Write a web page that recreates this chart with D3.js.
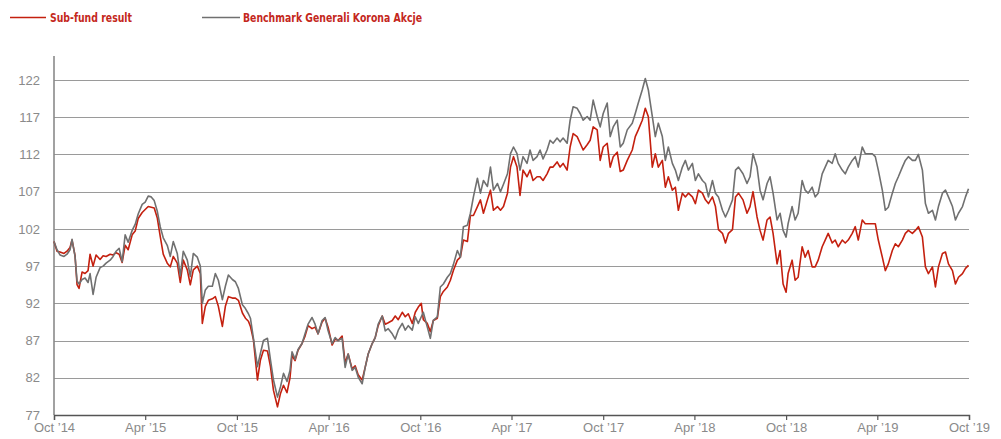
<!DOCTYPE html>
<html>
<head>
<meta charset="utf-8">
<script src="https://cdn.jsdelivr.net/npm/d3@7"></script>
<style>
  html, body { margin: 0; padding: 0; background: #ffffff; }
  svg { display: block; }
</style>
</head>
<body>
<svg id="chart" width="1001" height="439"></svg>
<script>
// ---- data ----
const startDate = "2014-10-01";
const endDate = "2019-10-01";
const seriesNames = ["Sub-fund result", "Benchmark Generali Korona Akcje"];
const yTicks = [77, 82, 87, 92, 97, 102, 107, 112, 117, 122];
const xTickDates = ["2014-10-01","2015-04-01","2015-10-01","2016-04-01","2016-10-01","2017-04-01","2017-10-01","2018-04-01","2018-10-01","2019-04-01","2019-10-01"];
const xTickLabels = ["Oct \u201914","Apr \u201915","Oct \u201915","Apr \u201916","Oct \u201916","Apr \u201917","Oct \u201917","Apr \u201918","Oct \u201918","Apr \u201919","Oct \u201919"];

// days since startDate for each observation
const dayOffsets = [
0,6,12,20,26,32,36,42,46,50,56,62,68,72,78,84,92,98,104,112,118,124,130,136,142,148,156,162,168,176,182,188,194,200,206,212,218,226,
232,238,246,252,258,266,272,278,286,292,296,302,308,316,322,328,336,342,348,356,362,368,376,382,388,392,398,406,412,418,426,432,438,446,452,
458,465,471,475,481,487,495,501,507,515,521,527,535,541,547,555,561,567,575,581,587,595,601,607,615,621,627,635,641,647,655,661,667,675,681,687,
695,701,707,715,721,727,733,737,745,751,757,765,771,777,785,791,797,805,811,817,825,831,837,845,851,857,865,871,877,885,891,897,905,911,917,
924,930,936,944,950,956,964,970,976,984,990,996,1004,1010,1016,1024,1030,1036,1044,1050,1056,1064,1070,1076,1084,1090,1096,1104,1110,1116,1124,1130,1136,
1144,1154,1160,1166,1174,1180,1186,1194,1200,1206,1214,1220,1226,1234,1240,1246,1254,1260,1266,1274,1280,1286,1294,1300,1306,1314,1320,1326,1334,1340,1346,1354,1360,1366,
1375,1383,1389,1395,1403,1409,1415,1423,1429,1435,1443,1449,1455,1461,1465,1473,1479,1485,1493,1499,1505,1513,1519,1525,1533,1539,1545,1553,1559,1565,1573,1579,1585,1593,1599,
1605,1613,1619,1625,1633,1639,1645,1653,1659,1665,1673,1679,1685,1693,1699,1705,1713,1719,1725,1733,1739,1745,1753,1759,1765,1773,1779,1785,1793,1799,1805,1813,1819,1825
];

const subFund = [
100.3,99.0,98.9,98.7,99.0,99.5,100.5,98.4,94.5,94.0,96.2,96.0,96.4,98.6,97.0,98.5,97.9,98.4,98.3,98.6,98.5,98.8,98.6,97.5,99.8,99.2,101.2,101.7,103.4,104.2,104.6,105.0,104.9,104.8,103.5,101.0,98.6,97.4,
96.9,98.3,97.4,94.8,97.8,96.5,94.5,96.5,97.0,96.0,89.3,91.6,92.4,92.6,92.9,91.6,88.9,91.6,92.9,92.7,92.7,92.4,90.7,90.0,89.6,88.9,87.1,81.7,84.4,85.7,85.6,83.5,80.3,78.1,79.9,
81.0,80.0,82.0,85.0,84.3,85.7,86.6,87.6,89.0,88.6,88.8,87.9,89.5,90.0,88.8,86.4,87.2,87.0,87.6,84.0,85.2,83.2,83.6,82.4,81.7,83.4,85.2,86.6,87.4,89.0,90.3,89.2,89.4,89.7,90.3,89.8,
90.8,90.2,90.6,89.3,90.8,91.5,92.0,89.8,89.3,88.2,89.7,90.0,92.9,93.6,94.2,95.1,96.4,97.8,98.2,100.5,100.3,103.8,103.8,105.0,105.9,104.1,105.9,107.2,104.5,105.0,104.5,105.0,106.8,110.3,111.7,
110.3,106.5,109.9,109.0,109.9,108.5,109.0,109.0,108.5,109.4,110.3,110.3,111.0,110.3,110.8,109.9,113.0,114.8,114.4,113.5,112.6,113.3,113.9,115.7,115.3,111.2,113.0,113.5,110.3,111.7,112.3,109.7,109.9,
111.2,112.6,114.4,115.3,116.6,118.2,117.1,110.3,112.1,110.3,111.2,107.6,109.0,107.2,107.6,104.5,106.8,106.3,106.8,106.3,105.4,107.2,106.8,105.9,105.4,106.3,105.0,101.9,101.4,100.1,101.4,101.9,106.3,106.8,
105.9,104.1,105.0,107.0,103.6,101.8,100.5,103.2,103.6,101.4,97.3,99.1,94.6,93.5,96.0,97.8,95.1,95.5,99.6,98.2,99.1,96.9,96.9,97.8,99.6,100.5,101.4,100.1,100.5,99.6,100.5,100.1,100.5,101.4,102.3,
100.5,103.2,102.7,102.7,102.7,102.7,100.5,98.2,96.4,97.3,99.1,100.0,99.6,100.5,101.4,101.8,101.4,101.8,102.3,100.9,96.9,96.0,96.9,94.2,96.9,98.7,98.9,97.3,96.4,94.6,95.5,96.0,96.7,97.1
];

const benchmark = [
100.3,99.2,98.5,98.3,98.6,99.2,100.6,98.3,95.0,94.6,95.2,95.4,94.8,96.0,93.2,95.5,96.8,97.0,97.4,97.8,98.3,99.0,99.4,97.6,101.2,100.2,101.8,102.6,104.0,105.3,105.6,106.4,106.3,105.8,104.4,102.3,100.8,99.8,
98.3,100.3,98.7,95.7,99.0,97.8,95.6,98.7,98.2,97.0,92.0,93.8,94.3,94.3,96.0,95.1,92.5,94.3,95.8,95.2,94.9,94.0,91.8,91.3,90.6,90.0,87.3,83.5,85.3,87.0,87.3,84.4,81.7,79.4,80.8,
82.6,81.5,83.0,85.5,84.5,85.8,86.6,87.9,89.2,90.1,89.2,87.9,89.7,90.1,88.3,86.6,87.4,87.0,87.3,83.4,85.2,83.0,83.4,82.1,81.2,83.4,85.2,86.6,87.4,89.2,90.3,88.3,88.6,87.9,87.2,88.4,
89.3,88.4,89.0,88.4,90.2,89.3,90.2,90.8,88.8,87.3,89.7,90.2,94.2,94.6,95.5,96.0,97.2,99.1,98.2,102.3,102.5,104.1,106.3,108.8,106.8,108.5,107.7,110.3,107.2,108.1,107.0,108.0,109.4,112.1,113.0,
112.1,109.9,111.7,110.8,112.6,111.2,111.7,112.6,111.4,112.6,113.9,113.5,114.2,113.7,114.2,113.5,116.6,118.4,118.2,117.5,116.6,117.1,116.6,119.3,117.1,115.7,117.5,118.9,114.4,115.7,116.6,113.0,113.5,
115.3,116.2,117.5,118.9,120.7,122.2,120.7,117.1,114.4,116.2,114.4,111.2,113.0,110.8,109.9,108.5,110.3,111.2,109.9,110.8,108.5,109.4,108.5,108.1,106.3,108.5,106.8,106.3,104.5,103.6,104.5,105.9,109.9,110.3,
109.4,108.1,109.0,112.1,110.3,107.2,105.9,108.1,109.0,106.8,103.2,104.1,101.8,100.9,102.7,105.0,103.2,104.1,108.5,107.2,106.8,107.6,106.3,106.8,109.4,110.3,111.2,110.8,112.1,110.8,109.9,109.4,110.3,111.2,111.7,
110.3,113.0,112.1,112.1,112.1,111.7,109.9,107.2,104.5,104.9,106.8,108.1,109.0,110.3,111.2,111.7,111.2,111.2,112.0,109.9,105.4,104.1,104.5,103.2,105.0,106.8,107.2,106.3,105.0,103.2,104.1,105.0,106.3,107.4
];

const colors = { sub: "#c4200f", bench: "#707070", legendText: "#c4281c" };

// ---- chart ----
const svg = d3.select("#chart");
const parse = d3.timeParse("%Y-%m-%d");
const t0 = parse(startDate);

const x = d3.scaleTime().domain([t0, parse(endDate)]).range([54, 969]);
const y = d3.scaleLinear().domain([77, 122]).range([415, 80]);

// gridlines
svg.append("g").selectAll("line").data(yTicks.slice(1)).join("line")
  .attr("x1", 54).attr("x2", 969)
  .attr("y1", d => Math.round(y(d)) + 0.5).attr("y2", d => Math.round(y(d)) + 0.5)
  .attr("stroke", "#9a9a9a").attr("stroke-width", 1);

// y axis
const yAxis = d3.axisLeft(y).tickValues(yTicks).tickSize(0).tickPadding(14);
const gy = svg.append("g").attr("transform", "translate(54,0)").call(yAxis);
gy.select(".domain").remove();
gy.selectAll("text")
  .attr("fill", "#8a8a8a")
  .style("font-family", "'Liberation Sans', Arial, sans-serif")
  .style("font-size", "13px");
svg.append("line").attr("x1", 54).attr("x2", 54).attr("y1", 56).attr("y2", 415)
  .attr("stroke", "#8a8a8a").attr("stroke-width", 1.6);

// x axis
const xAxis = d3.axisBottom(x)
  .tickValues(xTickDates.map(parse))
  .tickFormat((d, i) => xTickLabels[i])
  .tickSize(5).tickPadding(3);
const gx = svg.append("g").attr("transform", "translate(0,415)").call(xAxis);
gx.select(".domain").attr("stroke", "#555").attr("stroke-width", 1.4);
gx.selectAll(".tick line").attr("stroke", "#555").attr("stroke-width", 1.2);
gx.selectAll("text")
  .attr("fill", "#8a8a8a")
  .style("font-family", "'Liberation Sans', Arial, sans-serif")
  .style("font-size", "13px");

// lines
const subData = dayOffsets.map((d, i) => ({ date: d3.timeDay.offset(t0, d), v: subFund[i] }));
const benchData = dayOffsets.map((d, i) => ({ date: d3.timeDay.offset(t0, d), v: benchmark[i] }));
const line = d3.line().x(d => x(d.date)).y(d => y(d.v));

svg.append("path").datum(subData).attr("d", line)
  .attr("fill", "none").attr("stroke", colors.sub).attr("stroke-width", 1.6)
  .attr("stroke-linejoin", "round");
svg.append("path").datum(benchData).attr("d", line)
  .attr("fill", "none").attr("stroke", colors.bench).attr("stroke-width", 1.6)
  .attr("stroke-linejoin", "round");

// legend
const legend = [
  { name: seriesNames[0], color: colors.sub, x1: 10, x2: 46, tx: 50, w: 82 },
  { name: seriesNames[1], color: colors.bench, x1: 202, x2: 240, tx: 243, w: 179 }
];
const lg = svg.append("g");
legend.forEach(l => {
  lg.append("line").attr("x1", l.x1).attr("x2", l.x2).attr("y1", 17.5).attr("y2", 17.5)
    .attr("stroke", l.color).attr("stroke-width", 1.6);
  lg.append("text").attr("x", l.tx).attr("y", 22)
    .attr("fill", colors.legendText)
    .attr("textLength", l.w).attr("lengthAdjust", "spacingAndGlyphs")
    .style("font-family", "'Liberation Sans Narrow', 'DejaVu Sans Condensed', 'Liberation Sans', sans-serif")
    .style("font-weight", "bold")
    .style("font-size", "13px")
    .text(l.name);
});
</script>
</body>
</html>
